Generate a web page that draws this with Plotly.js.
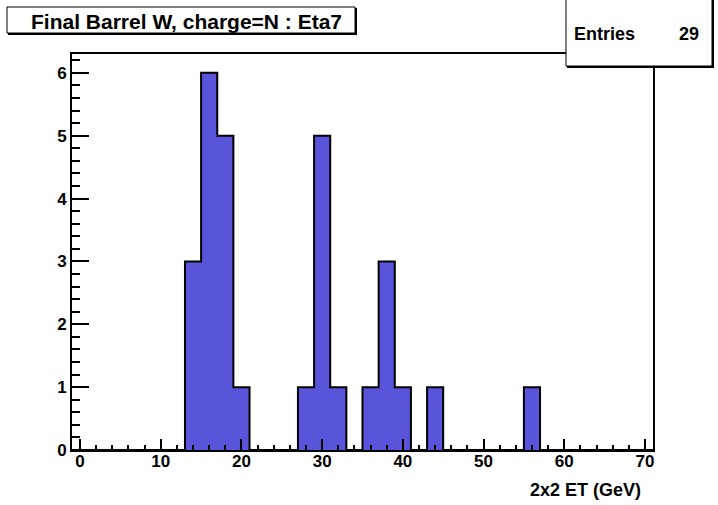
<!DOCTYPE html>
<html>
<head>
<meta charset="utf-8">
<script src="https://cdn.plot.ly/plotly-3.0.1.min.js"></script>
<style>html,body{margin:0;padding:0;background:#fff;}#chart{width:718px;height:505px;}</style>
</head>
<body>
<div id="chart"></div>
<script>
// Histogram data: bin centers (width 2, range -1..71) and counts
const binCenters = [0,2,4,6,8,10,12,14,16,18,20,22,24,26,28,30,32,34,36,38,40,42,44,46,48,50,52,54,56,58,60,62,64,66,68,70];
const counts     = [0,0,0,0,0,0, 0, 3, 6, 5, 1, 0, 0, 0, 1, 5, 1, 0, 1, 3, 1, 0, 1, 0, 0, 0, 0, 0, 1, 0, 0, 0, 0, 0, 0, 0];
const binWidth = 2;
const titleText = "Final Barrel W, charge=N : Eta7";
const xTitle = "2x2 ET (GeV)";
const entries = counts.reduce((a,b)=>a+b,0);

// Step contour from bins
const xs = binCenters.map(c => c - binWidth/2);
xs.push(binCenters[binCenters.length-1] + binWidth/2);
const ys = counts.slice();
ys.push(counts[counts.length-1]);

const FONT = "Liberation Sans, Arial, Helvetica, sans-serif";

const trace = {
  type: 'scatter', mode: 'lines',
  x: xs, y: ys,
  line: {shape: 'hv', color: '#000', width: 2},
  fill: 'tozeroy', fillcolor: '#5954d9',
  hoverinfo: 'skip'
};

// plot area in px: x 72..653, y 54..450
const L=72, R=653, T=54, B=450;
const px = v => (v - L)/(R-L);
const py = v => (B - v)/(B-T);

const layout = {
  width: 718, height: 505,
  margin: {l: L, r: 718-R, t: T, b: 505-B},
  paper_bgcolor: '#fff', plot_bgcolor: '#fff',
  showlegend: false,
  font: {family: FONT, color: '#000', size: 17, weight: 700},
  xaxis: {
    range: [-1, 71], showgrid: false, zeroline: false,
    showline: true, linecolor: '#000', linewidth: 2, mirror: true,
    ticks: 'inside', ticklen: 11, tickwidth: 2, tickcolor: '#000',
    tick0: 0, dtick: 10, ticklabelstandoff: -5,
    tickfont: {family: FONT, size: 17, weight: 700, color: '#000'},
    minor: {ticks: 'inside', ticklen: 5, tickwidth: 2, tickcolor: '#000', dtick: 2, tick0: 0, showgrid: false}
  },
  yaxis: {
    range: [0, 6.3], showgrid: false, zeroline: false,
    showline: true, linecolor: '#000', linewidth: 2, mirror: true,
    ticks: 'inside', ticklen: 17, tickwidth: 2, tickcolor: '#000',
    tick0: 0, dtick: 1,
    tickfont: {family: FONT, size: 17, weight: 700, color: '#000'},
    minor: {ticks: 'inside', ticklen: 8, tickwidth: 2, tickcolor: '#000', dtick: 0.2, tick0: 0, showgrid: false}
  },
  shapes: [
    // title box shadow + box
    {type:'rect', xref:'paper', yref:'paper', x0: px(8), x1: px(357), y0: py(35), y1: py(8), fillcolor:'#000', line:{width:0}},
    {type:'rect', xref:'paper', yref:'paper', x0: px(7), x1: px(355), y0: py(33), y1: py(7), fillcolor:'#fff', line:{color:'#000', width:1}},
    // stats box shadow + box
    {type:'rect', xref:'paper', yref:'paper', x0: px(567), x1: px(714), y0: py(68), y1: py(-2), fillcolor:'#000', line:{width:0}},
    {type:'rect', xref:'paper', yref:'paper', x0: px(566), x1: px(712), y0: py(66), y1: py(-2), fillcolor:'#fff', line:{color:'#000', width:1}}
  ],
  annotations: [
    {xref:'paper', yref:'paper', x: px(186), y: py(21), text: titleText, showarrow:false,
     xanchor:'center', yanchor:'middle', font:{family: FONT, size: 21, weight: 700, color:'#000'}},
    {xref:'paper', yref:'paper', x: px(572), y: py(34), text: 'Entries', showarrow:false,
     xanchor:'left', yanchor:'middle', font:{family: FONT, size: 18, weight: 700, color:'#000'}},
    {xref:'paper', yref:'paper', x: px(701), y: py(34), text: String(entries), showarrow:false,
     xanchor:'right', yanchor:'middle', font:{family: FONT, size: 18, weight: 700, color:'#000'}},
    {xref:'paper', yref:'paper', x: px(643), y: py(490), text: xTitle, showarrow:false,
     xanchor:'right', yanchor:'middle', font:{family: FONT, size: 18, weight: 700, color:'#000'}}
  ]
};

Plotly.newPlot('chart', [trace], layout, {displayModeBar: false, staticPlot: true});
</script>
</body>
</html>
